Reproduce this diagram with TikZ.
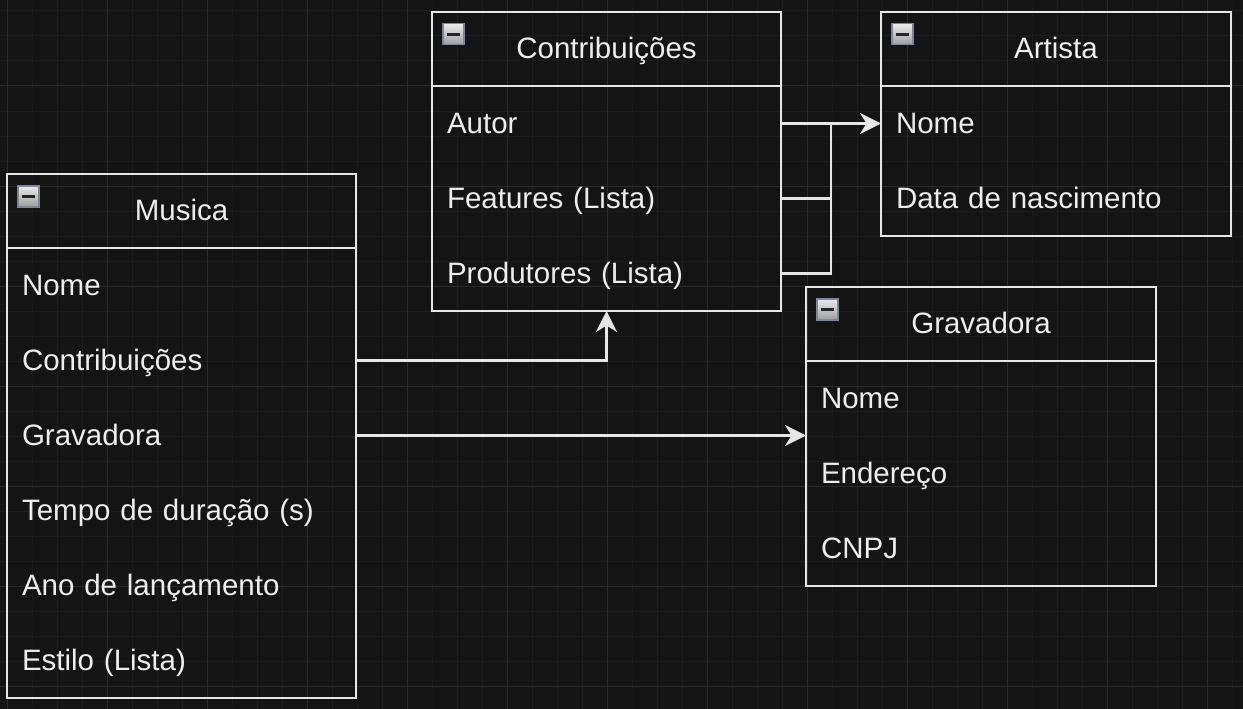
\documentclass[tikz,border=0pt]{standalone}
\usepackage{fontspec}
\setmainfont{Liberation Sans}
\usetikzlibrary{arrows.meta,shadings}
\definecolor{bgc}{HTML}{141414}
\definecolor{gridminor}{HTML}{1C1C1C}
\definecolor{gridmajor}{HTML}{2A2A2A}
\definecolor{linec}{HTML}{E6E6E6}
\definecolor{textc}{HTML}{EDEDED}
\definecolor{iconborder}{HTML}{7F8699}
\tikzset{
  frm/.style={draw=linec, line width=2.4pt},
  frame/.style={frm, rectangle, inner sep=0pt, outer sep=0pt},
  hdr/.style={rectangle, inner sep=0pt, outer sep=0pt, minimum height=74pt,
    text=textc, font=\fontsize{29.5pt}{34pt}\selectfont, text height=24pt, text depth=4.6pt},
  rowst/.style={rectangle, inner xsep=15pt, inner ysep=0pt, outer sep=0pt,
    minimum height=75pt, align=left, text=textc,
    font=\fontsize{29.5pt}{34pt}\selectfont, text height=24pt, text depth=3.6pt},
  iconst/.style={rectangle, draw=iconborder, line width=1.5pt, minimum width=21pt,
    minimum height=21pt, inner sep=0pt, top color=white!92!black, bottom color=white!62!black,
    path picture={\draw[line width=2.6pt, black!85]
      ([xshift=4pt]path picture bounding box.west) -- ([xshift=-4pt]path picture bounding box.east);}},
  conn/.style={draw=linec, line width=2.4pt, -{Stealth[length=21pt,width=21pt,inset=6.5pt]}},
  plainconn/.style={draw=linec, line width=2.4pt},
}
\begin{document}
\begin{tikzpicture}[x=1pt,y=-1pt]
\useasboundingbox (0,0) rectangle (1243,709);
\fill[bgc] (0,0) rectangle (1243,709);
% grid
\foreach \x in {7,32,...,1243} \draw[gridminor, line width=1pt] (\x,0) -- (\x,709);
\foreach \y in {11,36,...,709} \draw[gridminor, line width=1pt] (0,\y) -- (1243,\y);
\foreach \x in {7,107,...,1243} \draw[gridmajor, line width=1pt] (\x,0) -- (\x,709);
\foreach \y in {86,186,...,709} \draw[gridmajor, line width=1pt] (0,\y) -- (1243,\y);

% ===== Musica =====
\node[frame, anchor=north west, minimum width=349pt, minimum height=524pt] (musB) at (7,174) {};
\node[hdr, anchor=north west, minimum width=349pt] (musH) at (7,174) {Musica};
\draw[frm] (musH.south west) -- (musH.south east);
\node[iconst, anchor=north west] (musI) at (17,185) {};
\node[rowst, anchor=north west, text width=319pt] (musNome) at (7,248) {Nome};
\node[rowst, anchor=north west, text width=319pt] (musContrib) at (7,323) {Contribuições};
\node[rowst, anchor=north west, text width=319pt] (musGrav) at (7,398) {Gravadora};
\node[rowst, anchor=north west, text width=319pt] (musTempo) at (7,473) {Tempo de duração (s)};
\node[rowst, anchor=north west, text width=319pt] (musAno) at (7,548) {Ano de lançamento};
\node[rowst, anchor=north west, text width=319pt] (musEstilo) at (7,623) {Estilo (Lista)};

% ===== Contribuicoes =====
\node[frame, anchor=north west, minimum width=349pt, minimum height=299pt] (contB) at (432,12) {};
\node[hdr, anchor=north west, minimum width=349pt] (contH) at (432,12) {Contribuições};
\draw[frm] (contH.south west) -- (contH.south east);
\node[iconst, anchor=north west] (contI) at (442,23) {};
\node[rowst, anchor=north west, text width=319pt] (contAutor) at (432,86) {Autor};
\node[rowst, anchor=north west, text width=319pt] (contFeat) at (432,161) {Features (Lista)};
\node[rowst, anchor=north west, text width=319pt] (contProd) at (432,236) {Produtores (Lista)};

% ===== Artista =====
\node[frame, anchor=north west, minimum width=350pt, minimum height=224pt] (artB) at (881,12) {};
\node[hdr, anchor=north west, minimum width=350pt] (artH) at (881,12) {Artista};
\draw[frm] (artH.south west) -- (artH.south east);
\node[iconst, anchor=north west] (artI) at (891,23) {};
\node[rowst, anchor=north west, text width=320pt] (artNome) at (881,86) {Nome};
\node[rowst, anchor=north west, text width=320pt] (artData) at (881,161) {Data de nascimento};

% ===== Gravadora =====
\node[frame, anchor=north west, minimum width=350pt, minimum height=299pt] (gravB) at (806,287) {};
\node[hdr, anchor=north west, minimum width=350pt] (gravH) at (806,287) {Gravadora};
\draw[frm] (gravH.south west) -- (gravH.south east);
\node[iconst, anchor=north west] (gravI) at (816,298) {};
\node[rowst, anchor=north west, text width=320pt] (gravNome) at (806,361) {Nome};
\node[rowst, anchor=north west, text width=320pt] (gravEnd) at (806,436) {Endereço};
\node[rowst, anchor=north west, text width=320pt] (gravCNPJ) at (806,511) {CNPJ};

% ===== connectors =====
\coordinate (jn) at (831,123.5);
\draw[plainconn] (contFeat.east) -| (jn);
\draw[plainconn] (contProd.east) -| (jn);
\draw[conn] (contAutor.east) -- (artNome.west);
\draw[conn] (musContrib.east) -| (contB.south);
\draw[conn] (musGrav.east) -- (gravB.west |- musGrav.east);
\end{tikzpicture}
\end{document}
